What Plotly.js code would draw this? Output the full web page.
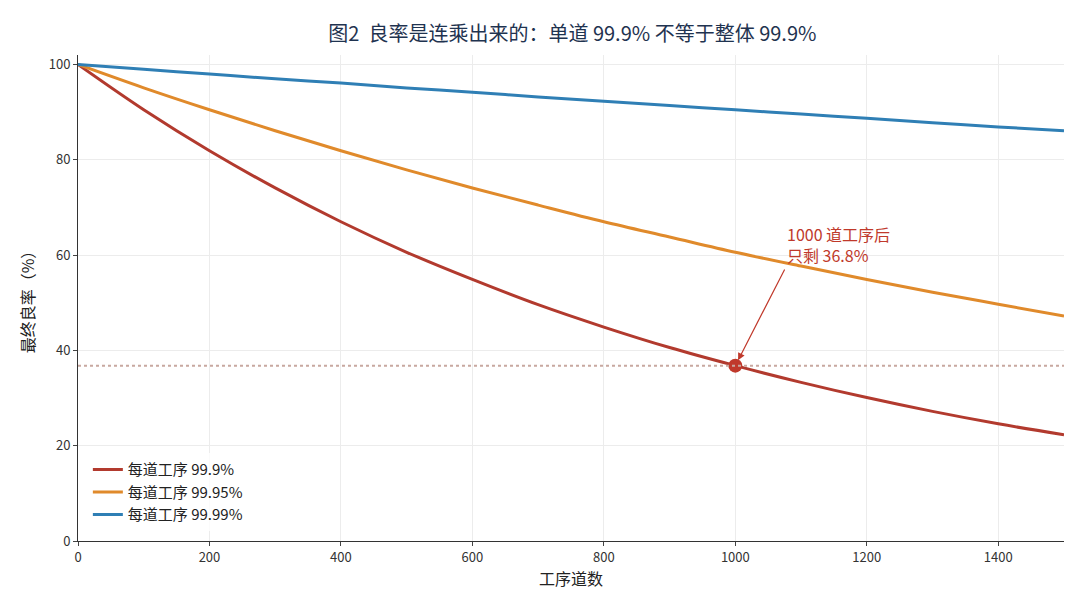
<!DOCTYPE html>
<html>
<head>
<meta charset="utf-8">
<script src="https://cdn.plot.ly/plotly-3.0.1.min.js"></script>
<style>html,body{margin:0;padding:0;background:#fff}</style>
</head>
<body>
<div id="chart" style="width:1080px;height:605px"></div>
<script>
// steps
const steps = [0, 100, 200, 300, 400, 500, 600, 700, 800, 900, 1000, 1100, 1200, 1300, 1400, 1500];
const yield999 = [100, 90.5, 81.9, 74.1, 67.0, 60.6, 54.9, 49.6, 44.9, 40.6, 36.8, 33.3, 30.1, 27.2, 24.6, 22.3];
const yield9995 = [100, 95.1, 90.5, 86.1, 81.9, 77.9, 74.1, 70.5, 67.0, 63.8, 60.6, 57.7, 54.9, 52.2, 49.7, 47.2];
const yield9999 = [100, 99.0, 98.0, 97.0, 96.1, 95.1, 94.2, 93.2, 92.3, 91.4, 90.5, 89.6, 88.7, 87.8, 86.9, 86.1];
const seriesNames = ['每道工序 99.9%', '每道工序 99.95%', '每道工序 99.99%'];
const markX = 1000, markY = 36.8;

const font = 'Noto Sans CJK SC, Noto Sans, sans-serif';
const line = (y, name, color) => ({
    x: steps, y: y, name: name, type: 'scatter', mode: 'lines',
    line: { color: color, width: 3, shape: 'spline' }
});

const data = [
    line(yield999, seriesNames[0], '#b23a2e'),
    line(yield9995, seriesNames[1], '#e08a2b'),
    line(yield9999, seriesNames[2], '#2f7fb5'),
    { x: [markX], y: [markY], type: 'scatter', mode: 'markers', showlegend: false,
      marker: { color: '#c0392b', size: 14 } }
];

const axis = {
    showgrid: true, gridcolor: '#ececec', zeroline: false,
    showline: true, linecolor: '#333', ticks: 'outside', ticklen: 4,
    tickfont: { size: 13, color: '#333', family: font }
};

const layout = {
    width: 1080, height: 605,
    margin: { l: 78, r: 16, t: 55, b: 64 },
    paper_bgcolor: '#fff', plot_bgcolor: '#fff',
    font: { family: font },
    title: { text: '图2  良率是连乘出来的：单道 99.9% 不等于整体 99.9%', x: 0.53, y: 0.955,
             font: { size: 20, color: '#1f3350', family: font } },
    xaxis: Object.assign({}, axis, { range: [0, 1500], dtick: 200,
             title: { text: '工序道数', font: { size: 16, color: '#222' }, standoff: 8 } }),
    yaxis: Object.assign({}, axis, { range: [0, 102], dtick: 20,
             title: { text: '最终良率（%）', font: { size: 16, color: '#222' }, standoff: 10 } }),
    shapes: [{ type: 'line', xref: 'paper', x0: 0, x1: 1, y0: markY, y1: markY,
               line: { color: '#c8a8a0', width: 2, dash: 'dot' } }],
    annotations: [{
        x: markX, y: markY, ax: 1075, ay: 57, axref: 'x', ayref: 'y',
        text: '1000 道工序后<br>只剩 36.8%', align: 'left', xanchor: 'left', yanchor: 'bottom',
        font: { size: 16, color: '#c0392b', family: font },
        showarrow: true, arrowhead: 2, arrowsize: 1.2, arrowwidth: 1.2, arrowcolor: '#c0392b',
        standoff: 6
    }],
    legend: { x: 0.01, y: 0.02, xanchor: 'left', yanchor: 'bottom', bgcolor: 'rgba(255,255,255,0.8)',
              font: { size: 15, color: '#222', family: font } }
};

Plotly.newPlot('chart', data, layout, { staticPlot: true });
</script>
</body>
</html>
